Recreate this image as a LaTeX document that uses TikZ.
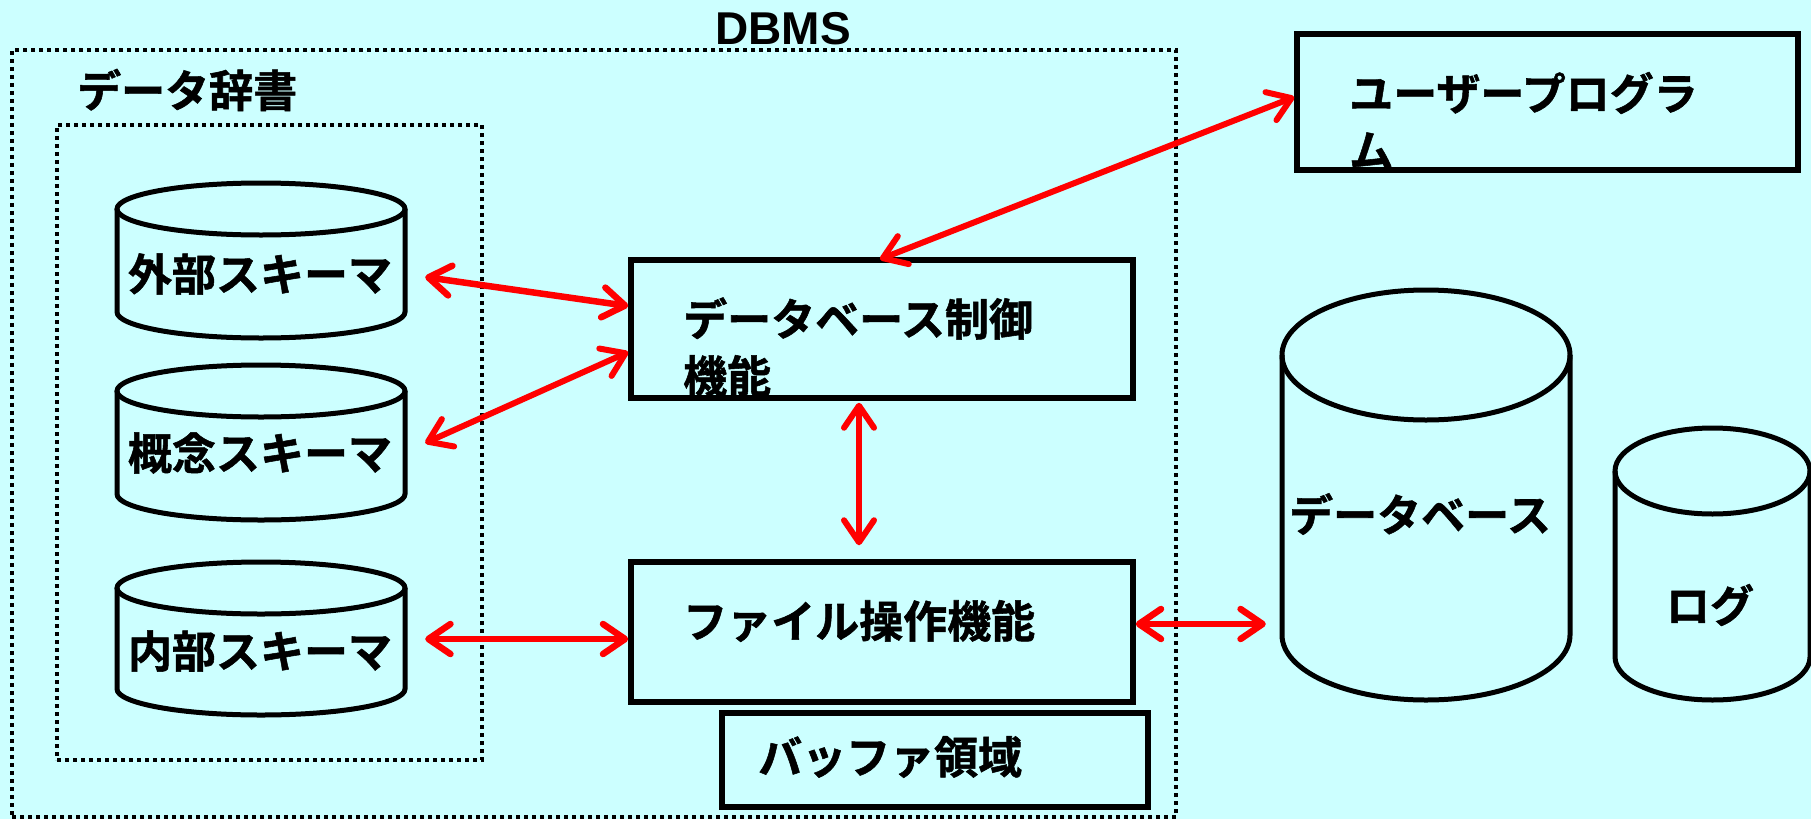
\documentclass[tikz,border=0pt]{standalone}
\usepackage{fontspec}
\setmainfont{Liberation Sans}
\newfontfamily\jp{Noto Sans CJK JP Bold}[FakeBold=1.2]
\usetikzlibrary{arrows.meta,calc}
\definecolor{bgc}{HTML}{CCFFFF}
\definecolor{arr}{HTML}{FF0000}
\newcommand\mycyl[5]{%
 \draw[cylline] (#1-#4,#2) -- (#1-#4,#3) arc[start angle=180,end angle=360,x radius=#4pt,y radius=#5pt] -- (#1+#4,#2);
 \draw[cylline] (#1,#2) ellipse[x radius=#4pt,y radius=#5pt];}
\begin{document}
\begin{tikzpicture}[x=1pt,y=-1pt,
 jptext/.style={font=\jp\fontsize{44}{57}\selectfont, inner sep=0pt, align=left},
 latintext/.style={font=\bfseries\fontsize{46}{50}\selectfont, inner sep=0pt},
 box/.style={draw=black, line width=5.5pt, inner sep=0pt},
 dotbox/.style={draw=black, line width=4pt, dash pattern=on 4pt off 4pt, inner sep=0pt},
 cylbody/.style={draw=none, inner sep=0pt, minimum width=288pt},
 cylline/.style={draw=black, line width=5pt},
 conn/.style={draw=arr, line width=6.5pt, line cap=round,
   {Straight Barb[length=22pt,width=30pt,round]}-{Straight Barb[length=22pt,width=30pt,round]}},
 thinconn/.style={conn, line width=6pt},
]
\fill[bgc] (0,0) rectangle (1811,819);
\useasboundingbox (0,0) rectangle (1811,819);

% frames
\node[dotbox, minimum width=1164pt, minimum height=767pt] (dbms) at (594,433.5) {};
\node[latintext] (dbmsl) at (783,29) {DBMS};
\node[dotbox, minimum width=425pt, minimum height=635pt] (dict) at (269.5,442.5) {};
\node[jptext, anchor=west] (dictl) at (77,90) {データ辞書};

% schema cylinders
\node[cylbody, minimum height=155pt] (ext) at (261,260.5) {};
\mycyl{261}{209}{312}{144}{26}
\node[jptext] (extl) at (260,274) {外部スキーマ};
\node[cylbody, minimum height=155pt] (con) at (261,442.5) {};
\mycyl{261}{391}{494}{144}{26}
\node[jptext] (conl) at (260,453) {概念スキーマ};
\node[cylbody, minimum height=153pt] (int) at (261,638.5) {};
\mycyl{261}{588}{689}{144}{26}
\node[jptext] (intl) at (260,651) {内部スキーマ};

% boxes
\node[box, minimum width=502pt, minimum height=138pt] (ctrl) at (882,329) {};
\node[jptext, anchor=west] (ctrll) at (683,347) {データベース制御\\機能};
\node[box, minimum width=502pt, minimum height=140pt] (file) at (882,632) {};
\node[jptext, anchor=west] (filel) at (683,621) {ファイル操作機能};
\node[box, minimum width=426pt, minimum height=94pt] (buf) at (935,760) {};
\node[jptext, anchor=west] (bufl) at (758,757) {バッファ領域};
\node[box, minimum width=501pt, minimum height=136pt] (user) at (1547.5,102) {};
\node[jptext, anchor=west] (userl) at (1349,120.5) {ユーザープログラ\\ム};

% database and log
\node[cylbody, minimum width=288pt, minimum height=410pt] (db) at (1426,495) {};
\mycyl{1426}{355}{635}{144}{65}
\node[jptext] (dbl) at (1420,514) {データベース};
\node[cylbody, minimum width=195pt, minimum height=272pt] (log) at (1712.5,564) {};
\mycyl{1712.5}{471}{657}{97.5}{43}
\node[jptext] (logl) at (1710,605) {ログ};

% connectors
\draw[conn] ($(ext.east)+(20,16.5)$) -- ($(ctrl.west)+(0,-23)$);
\draw[thinconn] ($(con.east)+(20,0.5)$) -- ($(ctrl.west)+(0,23)$);
\draw[conn] ($(int.east)+(20,0.5)$) -- ($(file.west)+(0,7)$);
\draw[thinconn] ($(ctrl.south)+(-23,2)$) -- ($(file.north)+(-23,-14)$);
\draw[thinconn] ($(ctrl.north)+(-2,2)$) -- ($(user.west)+(0,-5)$);
\draw[conn] ($(file.east)+(0,-8)$) -- ($(db.west)+(-16,129)$);
\end{tikzpicture}
\end{document}
